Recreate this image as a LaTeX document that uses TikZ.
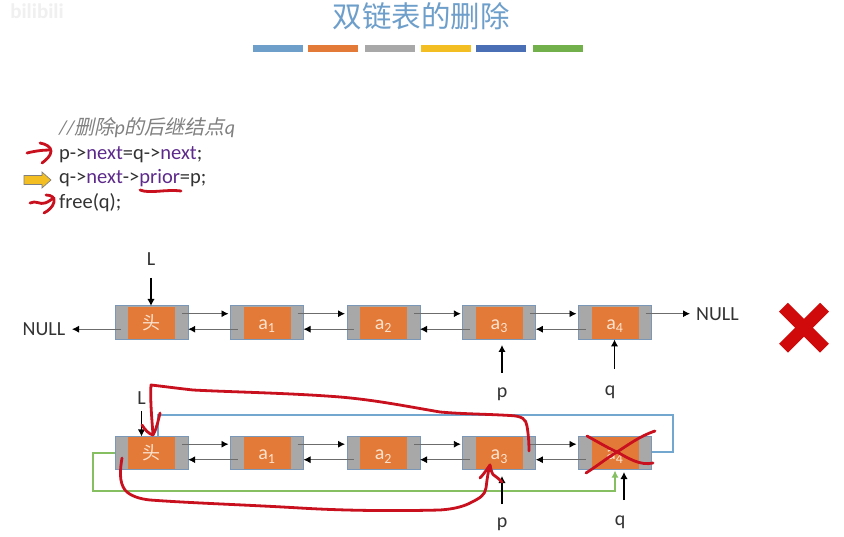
\documentclass[tikz,border=0pt]{standalone}
\usepackage{fontspec}
\setmainfont{Carlito}
\newfontfamily\cjk{Noto Sans CJK SC}
\newfontfamily\cjki[FakeSlant=0.22]{Noto Sans CJK SC}
\usetikzlibrary{calc,arrows.meta}
\definecolor{rowblue}{HTML}{6E9FCB}
\definecolor{edgeblue}{HTML}{7A97B8}
\definecolor{cellgray}{HTML}{A8A8A8}
\definecolor{cellorange}{HTML}{E47A38}
\definecolor{cellink}{HTML}{FBE3CF}
\definecolor{inkred}{HTML}{C8101E}
\definecolor{xred}{HTML}{D00A0A}
\definecolor{kw}{HTML}{5E2B8C}
\definecolor{ink}{HTML}{333333}
\definecolor{linkblue}{HTML}{74A7D0}
\definecolor{linkgreen}{HTML}{86BE62}
\definecolor{baryellow}{HTML}{F2BE22}
\definecolor{barblue}{HTML}{4A6FB5}
\definecolor{bargreen}{HTML}{72B04C}
\tikzset{
  cell/.style={draw=edgeblue,line width=1pt,fill=cellgray,minimum width=73pt,minimum height=33.5pt,inner sep=0pt,outer sep=0pt},
  core/.style={fill=cellorange,minimum width=47pt,minimum height=32pt,inner sep=0pt,outer sep=0pt,text=cellink,font=\fontsize{20}{20}\selectfont,text height=16pt,text depth=2.6pt},
  lbl/.style={text=ink,font=\fontsize{20}{20}\selectfont,inner sep=0pt},
  code/.style={text=ink,font=\fontsize{20.5}{21}\selectfont,inner sep=0pt,anchor=west},
  lnk/.style={draw=gray!85!black,line width=.9pt,-{Latex[length=7pt,width=7pt,color=black]}},
  ptr/.style={draw=black,line width=1.5pt,-{Latex[length=7pt,width=7.5pt]}},
  bar/.style={minimum width=50pt,minimum height=6.5pt,inner sep=0pt,draw=none},
  redpen/.style={draw=inkred,line width=2.8pt,line cap=round,line join=round},
  loopblue/.style={draw=linkblue,line width=2pt},
  loopgreen/.style={draw=linkgreen,line width=2pt},
}
\newcommand{\nxt}[2]{\draw[lnk] ($(#1.east)+(-6,-9)$) -- ($(#2.west)+(-2,-9)$);}
\newcommand{\prv}[2]{\draw[lnk] ($(#2.west)+(7,6.5)$) -- ($(#1.east)+(0,6.5)$);}
\begin{document}
\begin{tikzpicture}[x=1pt,y=-1pt]
\useasboundingbox (0,0) rectangle (844,537);
\fill[white] (0,0) rectangle (844,537);
% watermark
\node[text=black!6,font=\bfseries\fontsize{21}{21}\selectfont,inner sep=0pt] (wm) at (37,11) {bilibili};
% title
\node[text=rowblue,font=\cjk\fontsize{29.5}{30}\selectfont,inner sep=0pt] (title) at (421,16) {双链表的删除};
\node[bar,fill=rowblue] (b1) at (278.3,48.3) {};
\node[bar,fill=cellorange] (b2) at (333,48.3) {};
\node[bar,fill=cellgray] (b3) at (390,48.3) {};
\node[bar,fill=baryellow] (b4) at (446,48.3) {};
\node[bar,fill=barblue] (b5) at (501.3,48.3) {};
\node[bar,fill=bargreen] (b6) at (558,48.3) {};
% code
\node[code,text=gray,font=\itshape\fontsize{20}{21}\selectfont] (c0) at (59,128) {//{\cjki 删除}p{\cjki 的后继结点}q};
\node[code] (c1) at (59,154.5) {p->\textcolor{kw}{next}=q->\textcolor{kw}{next};};
\node[code] (c2) at (59,178) {q->\textcolor{kw}{next}->\textcolor{kw}{prior}=p;};
\node[code] (c3) at (59,202.5) {free(q);};
% yellow pointer
\draw[fill=baryellow,draw=gray,line width=.7pt] (24,175.5) -- (42,175.5) -- (42,172) -- (51,180) -- (42,188) -- (42,184.5) -- (24,184.5) -- cycle;
% top row
\node[cell] (t0) at (151.7,322.7) {};
\node[core] (t0c) at (t0) {\cjk\fontsize{18}{18}\selectfont 头};
\node[cell] (t1) at (267,322.7) {};
\node[core] (t1c) at (t1) {a$_{\mathrm{1}}$};
\node[cell] (t2) at (383.5,322.7) {};
\node[core] (t2c) at (t2) {a$_{\mathrm{2}}$};
\node[cell] (t3) at (499.3,322.7) {};
\node[core] (t3c) at (t3) {a$_{\mathrm{3}}$};
\node[cell] (t4) at (615,322.7) {};
\node[core] (t4c) at (t4) {a$_{\mathrm{4}}$};
\nxt{t0}{t1}\prv{t0}{t1}
\nxt{t1}{t2}\prv{t1}{t2}
\nxt{t2}{t3}\prv{t2}{t3}
\nxt{t3}{t4}\prv{t3}{t4}
\node[lbl] (nl) at (44,329) {NULL};
\node[lbl] (nr) at (717.5,314) {NULL};
\coordinate (nlend) at (72,329.2);
\coordinate (nrend) at (690,313.7);
\draw[lnk] (nlend -| t0.west) ++(6,0) -- (nlend);
\draw[lnk] ($(t4.east)+(-6,-9)$) -- (nrend);
\node[lbl] (tL) at (151,259) {L};
\coordinate (tLs) at (151,278);
\draw[ptr] (tLs) -- (tLs |- t0.north);
\node[lbl] (tp) at (502,394) {p};
\coordinate (tps) at (502,373);
\draw[ptr] (tps) -- (502,345);
\node[lbl] (tq) at (610,392) {q};
\coordinate (tqs) at (614.5,369);
\draw[ptr] (tqs) -- (tqs |- t4.south);
% red cross
\node[inner sep=0pt,minimum size=0pt] (bigx) at (804,327.7) {};
\draw[xred,line width=12.5pt] (bigx)+(-20.5,-20.5) -- +(20.5,20.5);
\draw[xred,line width=12.5pt] (bigx)+(-20.5,20.5) -- +(20.5,-20.5);
% bottom row
\node[cell] (d0) at (151.7,453.2) {};
\node[core] (d0c) at (d0) {\cjk\fontsize{18}{18}\selectfont 头};
\node[cell] (d1) at (267,453.2) {};
\node[core] (d1c) at (d1) {a$_{\mathrm{1}}$};
\node[cell] (d2) at (383.5,453.2) {};
\node[core] (d2c) at (d2) {a$_{\mathrm{2}}$};
\node[cell] (d3) at (499.3,453.2) {};
\node[core] (d3c) at (d3) {a$_{\mathrm{3}}$};
\node[cell] (d4) at (615,453.2) {};
\node[core] (d4c) at (d4) {a$_{\mathrm{4}}$};
\nxt{d0}{d1}\prv{d0}{d1}
\nxt{d1}{d2}\prv{d1}{d2}
\nxt{d2}{d3}\prv{d2}{d3}
\nxt{d3}{d4}\prv{d3}{d4}
% loops
\coordinate (bluea) at (672.7,452);
\coordinate (greena) at (93,453);
\draw[loopblue] (bluea -| d4.east) -- (bluea) -- (672.7,415) -- (158,415) -- (158,436);
\draw[loopgreen,-{Latex[length=7pt,width=7pt]}] (greena -| d0.west) -- (greena) -- (93,490.5) -- (615,490.5) -- (615,470.5);
\node[lbl] (dL) at (141.5,398) {L};
\coordinate (dLs) at (141.5,411);
\draw[ptr] (dLs) -- (dLs |- d0.north);
\node[lbl] (dp) at (502,524) {p};
\draw[ptr] (502,504) -- (502,476);
\node[lbl] (dq) at (620,522) {q};
\draw[ptr] (624,500) -- (624,472);
% handwriting
\begin{scope}[redpen]
\draw (27,153) .. controls (35,151) and (43,150) .. (50,150);
\draw (40,143) .. controls (46,144) and (51,147) .. (51,151) .. controls (51,156) and (46,160) .. (42,163);
\draw (30,203) .. controls (36,200) and (40,205) .. (45,203) .. controls (49,202) and (51,199) .. (54,198);
\draw (46,195) .. controls (52,195) and (55,198) .. (54,202) .. controls (53,207) and (48,211) .. (44,213);
\draw (140,190) .. controls (150,194) and (165,189) .. (181,191);
\draw (529,451) .. controls (529,440) and (528,432) .. (527,426) .. controls (526,419) and (522,416) .. (510,415.5) .. controls (485,414) and (462,414) .. (440,412) .. controls (405,406) and (375,400) .. (340,397) .. controls (290,393) and (230,392) .. (193,390) .. controls (175,388) and (160,386) .. (151,385) .. controls (150,400) and (152,420) .. (153,435);
\draw (142,425) .. controls (145,430) and (149,434) .. (153,435) .. controls (156,430) and (158,422) .. (160,413);
\draw (122,458) .. controls (120,470) and (119,482) .. (125,490) .. controls (130,496) and (140,499) .. (150,500) .. controls (190,503) and (250,505) .. (300,508) .. controls (350,511) and (400,511) .. (440,510) .. controls (455,509) and (465,506) .. (472,502) .. controls (480,498) and (485,495) .. (486,488) .. controls (487,480) and (488,472) .. (490,465);
\draw (480,478) .. controls (484,474) and (487,469) .. (490,465) .. controls (491,470) and (492,475) .. (495,476) .. controls (498,478) and (500,480) .. (502,482);
\draw (587,436) .. controls (598,442) and (608,448) .. (617,452) .. controls (628,458) and (640,466) .. (653,463);
\draw (586,473) .. controls (597,466) and (607,458) .. (617,452) .. controls (628,445) and (640,436) .. (655,431);
\end{scope}
\end{tikzpicture}
\end{document}
